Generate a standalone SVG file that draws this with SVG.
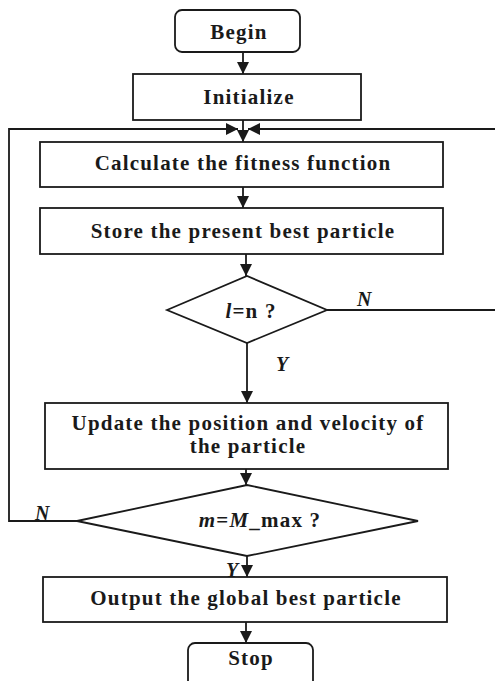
<svg xmlns="http://www.w3.org/2000/svg" width="495" height="681" viewBox="0 0 495 681">
<style>
.box{fill:#fff;stroke:#1a1a1a;stroke-width:1.8}
.ln{fill:none;stroke:#1a1a1a;stroke-width:1.8}
.t{font-family:"Liberation Serif","Times New Roman",serif;font-weight:bold;font-size:21px;letter-spacing:1.2px;fill:#1a1a1a;text-anchor:middle}
.lbl{font-family:"Liberation Serif","Times New Roman",serif;font-weight:bold;font-style:italic;font-size:20px;fill:#1a1a1a}
</style>
<defs>
<marker id="ah" markerWidth="12" markerHeight="12" refX="12" refY="6" orient="auto" markerUnits="userSpaceOnUse">
<path d="M0,0 L12,6 L0,12 Z" fill="#1a1a1a"/>
</marker>
</defs>
<rect width="495" height="681" fill="#fff"/>
<g id="connectors">
<line class="ln" x1="243" y1="52" x2="243" y2="74" marker-end="url(#ah)"/>
<line class="ln" x1="243" y1="120" x2="243" y2="142" marker-end="url(#ah)"/>
<polyline class="ln" points="77,521 9,521 9,129 238,129" marker-end="url(#ah)"/>
<polyline class="ln" points="327,310 496,310 496,129 248,129" marker-end="url(#ah)"/>
<line class="ln" x1="243" y1="187" x2="243" y2="208" marker-end="url(#ah)"/>
<line class="ln" x1="246" y1="254" x2="246" y2="276" marker-end="url(#ah)"/>
<line class="ln" x1="247" y1="343" x2="247" y2="403" marker-end="url(#ah)"/>
<line class="ln" x1="246" y1="469" x2="246" y2="485" marker-end="url(#ah)"/>
<line class="ln" x1="247" y1="556" x2="247" y2="577" marker-end="url(#ah)"/>
<line class="ln" x1="246" y1="622" x2="246" y2="643" marker-end="url(#ah)"/>
<text class="lbl" x="357" y="306">N</text>
<text class="lbl" x="276" y="371">Y</text>
<text class="lbl" x="35" y="520">N</text>
<text class="lbl" x="226" y="577">Y</text>
</g>
<g id="begin">
<rect class="box" x="175" y="10" width="125" height="42" rx="7"/>
<text class="t" x="239" y="39">Begin</text>
</g>
<g id="initialize">
<rect class="box" x="133" y="74" width="228" height="46"/>
<text class="t" x="249" y="104">Initialize</text>
</g>
<g id="calculate">
<rect class="box" x="40" y="142" width="403" height="45"/>
<text class="t" x="243" y="170">Calculate the fitness function</text>
</g>
<g id="store">
<rect class="box" x="40" y="208" width="403" height="46"/>
<text class="t" x="243" y="238">Store the present best particle</text>
</g>
<g id="decision1">
<polygon class="box" points="167,310 247,276 327,310 247,343"/>
<text class="t" x="251" y="318"><tspan font-style="italic">l</tspan>=n ?</text>
</g>
<g id="update">
<rect class="box" x="45" y="403" width="403" height="66"/>
<text class="t" x="248" y="430">Update the position and velocity of</text>
<text class="t" x="248" y="453">the particle</text>
</g>
<g id="decision2">
<polygon class="box" points="77,521 247,485 418,521 247,556"/>
<text class="t" x="260" y="527"><tspan font-style="italic">m</tspan>=<tspan font-style="italic">M</tspan>_max ?</text>
</g>
<g id="output">
<rect class="box" x="43" y="577" width="404" height="45"/>
<text class="t" x="246" y="605">Output the global best particle</text>
</g>
<g id="stop">
<rect class="box" x="188" y="643" width="125" height="46" rx="7"/>
<text class="t" x="251" y="665">Stop</text>
</g>
</svg>
